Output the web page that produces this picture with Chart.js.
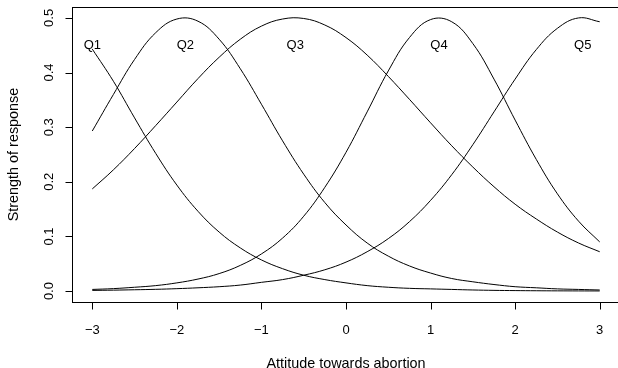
<!DOCTYPE html>
<html>
<head>
<meta charset="utf-8">
<script src="https://cdn.jsdelivr.net/npm/chart.js@4.4.1/dist/chart.umd.min.js"></script>
<style>
  html,body{margin:0;padding:0;background:#fff;overflow:hidden;}
  #wrap{width:625px;height:368px;position:relative;}
</style>
</head>
<body>
<div id="wrap"><canvas id="c"></canvas></div>
<script>
// Attitude scale on the x axis
const xs = [-3,-2.75,-2.5,-2.25,-2,-1.75,-1.5,-1.25,-1,-0.75,-0.5,-0.25,0,0.25,0.5,0.75,1,1.25,1.5,1.75,2,2.25,2.5,2.75,3];

// Strength of response per item
const q1 = [0.443,0.384,0.317,0.252,0.194,0.146,0.108,0.079,0.057,0.041,0.029,0.021,0.015,0.010,0.007,0.005,0.004,0.003,0.002,0.0013,0.0009,0.0006,0.0004,0.0003,0.0002];
const q2 = [0.293,0.360,0.424,0.473,0.498,0.494,0.461,0.407,0.342,0.275,0.214,0.162,0.121,0.088,0.064,0.046,0.033,0.023,0.017,0.012,0.008,0.006,0.004,0.003,0.002];
const q3 = [0.187,0.222,0.261,0.303,0.346,0.389,0.428,0.461,0.485,0.498,0.499,0.487,0.464,0.432,0.393,0.351,0.308,0.266,0.227,0.191,0.159,0.132,0.108,0.088,0.072];
const q4 = [0.003,0.0045,0.007,0.010,0.015,0.022,0.032,0.047,0.068,0.097,0.137,0.190,0.254,0.328,0.403,0.464,0.497,0.493,0.453,0.388,0.313,0.241,0.178,0.128,0.090];
const q5 = [0.0012,0.0017,0.0024,0.0032,0.0044,0.006,0.008,0.011,0.016,0.021,0.029,0.039,0.053,0.072,0.096,0.127,0.166,0.213,0.268,0.328,0.388,0.442,0.481,0.500,0.493];

const seriesNames = ["Q1","Q2","Q3","Q4","Q5"];
const labelX = [-3,-1.9,-0.6,1.1,2.8];
const labelY = 0.45;

const xTicks = [-3,-2,-1,0,1,2,3];
const yTicks = [0,0.1,0.2,0.3,0.4,0.5];
const xTitle = "Attitude towards abortion";
const yTitle = "Strength of response";

const FAM = '"Liberation Sans", Arial, Helvetica, sans-serif';
const FONT = '13px ' + FAM;
const TITLE_FONT = '14.4px ' + FAM;

const allSeries = [q1,q2,q3,q4,q5];
const datasets = allSeries.map((s,i)=>({
  label: seriesNames[i],
  data: xs.map((x,j)=>({x, y:s[j]})),
  borderColor:"#000",
  borderWidth:1,
  pointRadius:0,
  tension:0.4,
  fill:false
}));

const fmtX = (t)=> t<0 ? "\u2212"+Math.abs(t) : String(t);

// R style box, axes and text
const rAxes = {
  id:"rAxes",
  afterDraw(chart){
    const {ctx, chartArea:a, scales:{x, y}} = chart;
    ctx.save();
    ctx.strokeStyle="#000"; ctx.fillStyle="#000"; ctx.lineWidth=1;
    ctx.strokeRect(Math.round(a.left)+0.5, Math.round(a.top)+0.5, Math.round(a.right-a.left), Math.round(a.bottom-a.top));
    ctx.font = FONT;

    // x ticks
    const xb = Math.round(a.bottom)+0.5;
    ctx.beginPath();
    xTicks.forEach(t=>{
      const px = Math.round(x.getPixelForValue(t))+0.5;
      ctx.moveTo(px, xb); ctx.lineTo(px, xb+7);
    });
    ctx.stroke();
    ctx.textAlign="center"; ctx.textBaseline="alphabetic";
    xTicks.forEach(t=>ctx.fillText(fmtX(t), x.getPixelForValue(t), 333.5));

    // y ticks
    const yl = Math.round(a.left)+0.5;
    ctx.beginPath();
    yTicks.forEach(t=>{
      const py = Math.round(y.getPixelForValue(t))+0.5;
      ctx.moveTo(yl, py); ctx.lineTo(yl-7, py);
    });
    ctx.stroke();
    yTicks.forEach(t=>{
      ctx.save();
      ctx.translate(52.5, y.getPixelForValue(t));
      ctx.rotate(-Math.PI/2);
      ctx.textAlign="center"; ctx.textBaseline="alphabetic";
      ctx.fillText(t.toFixed(1), 0, 0);
      ctx.restore();
    });

    // titles
    ctx.font = TITLE_FONT;
    ctx.textAlign="center";
    ctx.fillText(xTitle, x.getPixelForValue(0), 367.5);
    ctx.save();
    ctx.translate(17.5, (a.top+a.bottom)/2);
    ctx.rotate(-Math.PI/2);
    ctx.fillText(yTitle, 0, 0);
    ctx.restore();

    // curve labels
    ctx.font = FONT;
    ctx.textBaseline="middle";
    seriesNames.forEach((n,i)=>ctx.fillText(n, x.getPixelForValue(labelX[i]), y.getPixelForValue(labelY)));
    ctx.restore();
  }
};

new Chart(document.getElementById("c"),{
  type:"line",
  data:{datasets},
  options:{
    responsive:true,
    maintainAspectRatio:false,
    animation:false,
    events:[],
    layout:{padding:{left:72,top:7,right:5,bottom:66}},
    plugins:{legend:{display:false},tooltip:{enabled:false}},
    scales:{
      x:{type:"linear",min:-3.24,max:3.24,display:false},
      y:{type:"linear",min:-0.02,max:0.52,display:false}
    }
  },
  plugins:[rAxes]
});
</script>
</body>
</html>
